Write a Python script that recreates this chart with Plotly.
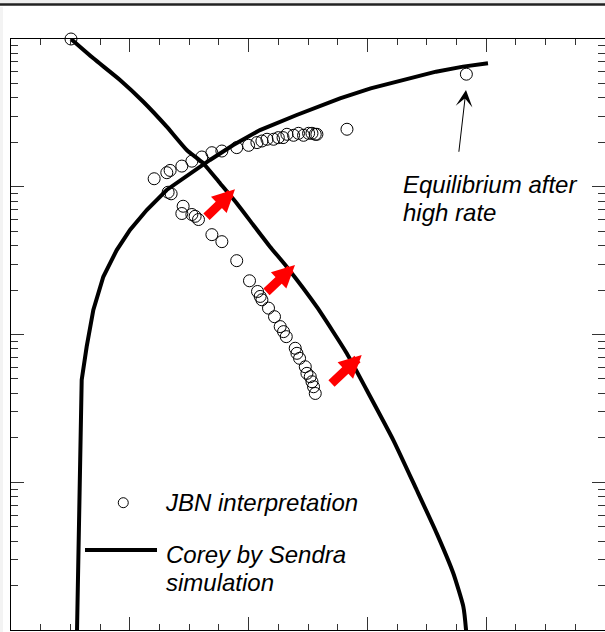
import plotly.graph_objects as go

# Corey curves (Sendra simulation)
corey_o_x = [0.101, 0.1386, 0.1835, 0.2227, 0.2621, 0.2958, 0.3237, 0.3519, 0.380, 0.4079, 0.436,
             0.4641, 0.5146, 0.5652, 0.5988, 0.6436, 0.683, 0.7167, 0.7446, 0.7615, 0.766, 0.7675]
corey_o_y = [1.0, 0.740, 0.528, 0.376, 0.255, 0.1773, 0.1441, 0.1055, 0.0773, 0.0551, 0.0393,
             0.02876, 0.01542, 0.00746, 0.00421, 0.00193, 0.000886, 0.000451, 0.000242, 0.000144,
             0.0001008, 0.00008]

corey_w_x = [0.1107, 0.1145, 0.119, 0.1274, 0.1386, 0.1554, 0.178, 0.2003, 0.2285, 0.2621, 0.3013,
             0.335, 0.3742, 0.4192, 0.481, 0.5539, 0.6055, 0.6633, 0.7155, 0.761, 0.803]
corey_w_y = [0.00008, 0.000555, 0.00492, 0.00827, 0.01465, 0.0246, 0.0373, 0.051, 0.0696, 0.0951,
             0.1233, 0.1518, 0.1917, 0.242, 0.306, 0.397, 0.4637, 0.528, 0.601, 0.65, 0.685]

# JBN interpretation points
jbn_x = [0.101,
         0.241, 0.2623, 0.2679, 0.2876, 0.3045, 0.3213, 0.3382, 0.355, 0.380, 0.400, 0.414, 0.4224,
         0.431, 0.442, 0.450, 0.458, 0.4645, 0.4757, 0.484, 0.4925, 0.501, 0.5067, 0.5122, 0.515,
         0.5656, 0.7666,
         0.2645, 0.2696, 0.2898, 0.2876, 0.3045, 0.310, 0.3156, 0.3382, 0.355, 0.380, 0.4015, 0.415,
         0.4195, 0.4224, 0.4335, 0.4436, 0.4532, 0.4588, 0.4634, 0.4785, 0.4814, 0.4858, 0.4954,
         0.4982, 0.5038, 0.5067, 0.5093, 0.5122]
jbn_y = [1.0,
         0.1133, 0.1245, 0.129, 0.138, 0.149, 0.159, 0.170, 0.1745, 0.184, 0.1907, 0.199, 0.204,
         0.2096, 0.2096, 0.215, 0.215, 0.2265, 0.223, 0.230, 0.223, 0.230, 0.230, 0.2265, 0.2265,
         0.245, 0.578,
         0.0918, 0.0896, 0.0738, 0.0659, 0.0649, 0.0631, 0.060, 0.0474, 0.0425, 0.0316, 0.0231, 0.01955,
         0.0181, 0.01717, 0.01508, 0.0132, 0.01131, 0.01046, 0.00967, 0.00807, 0.00746, 0.0069, 0.00605,
         0.00546, 0.00518, 0.00479, 0.00443, 0.00399]

# red arrows: tip (x, log10 y) and tail offsets in px
red_tip_x = [0.3771, 0.4781, 0.5904]
red_tip_logy = [-1.0173, -1.5296, -2.1387]
red_ax = [-30, -30, -31.7]
red_ay = [29, 28.3, 30]

FONT = "Liberation Sans, Arial, sans-serif"

fig = go.Figure()
fig.add_trace(go.Scatter(x=corey_o_x, y=corey_o_y, mode="lines",
                         line=dict(color="black", width=4, shape="spline", smoothing=0.5),
                         showlegend=False))
fig.add_trace(go.Scatter(x=corey_w_x, y=corey_w_y, mode="lines",
                         line=dict(color="black", width=4), showlegend=False))
fig.add_trace(go.Scatter(x=jbn_x, y=jbn_y, mode="markers", cliponaxis=False,
                         marker=dict(symbol="circle-open", size=12, color="black",
                                     line=dict(width=1, color="black")),
                         showlegend=False))

ann = []
for tx, ty, ax, ay in zip(red_tip_x, red_tip_logy, red_ax, red_ay):
    ann.append(dict(x=tx, y=ty, xref="x", yref="y", ax=ax, ay=ay, text="",
                    showarrow=True, arrowhead=2, arrowwidth=9, arrowsize=0.5,
                    arrowcolor="#ff0000"))
ann.append(dict(x=0.766, y=-0.345, xref="x", yref="y", ax=-7.3, ay=63.3, text="",
                showarrow=True, arrowhead=3, arrowwidth=1, arrowsize=2.8, arrowcolor="black"))

def label(txt, x, y):
    return dict(text="<i>" + txt + "</i>", x=x, y=y, xref="paper", yref="paper",
                xanchor="left", yanchor="middle", showarrow=False,
                font=dict(family=FONT, size=24, color="black"))

ann += [label("Equilibrium after", 0.656, 0.7530),
        label("high rate", 0.656, 0.7064),
        label("JBN interpretation", 0.256, 0.2149),
        label("Corey by Sendra", 0.257, 0.1278),
        label("simulation", 0.257, 0.0804)]

shapes = [
    dict(type="rect", xref="paper", yref="paper", x0=-0.05, x1=1.05, y0=1.0 + 34.5 / 591, y1=1.1,
         fillcolor="#eeeeee", line=dict(width=0), layer="below"),
    dict(type="rect", xref="paper", yref="paper", x0=-11 / 594, x1=-8 / 594, y0=-0.01,
         y1=1.0 + 32 / 591, fillcolor="#f3f3f3", line=dict(width=0), layer="below"),
    dict(type="line", xref="paper", yref="paper", x0=-0.05, x1=1.05,
         y0=1.0 + 34.5 / 591, y1=1.0 + 34.5 / 591, line=dict(color="#222", width=2.5)),
    dict(type="line", xref="paper", yref="paper", x0=0.1246, x1=0.2458, y0=0.1354, y1=0.1354,
         line=dict(color="black", width=4)),
    dict(type="circle", xref="paper", yref="paper", xsizemode="pixel", ysizemode="pixel",
         xanchor=0.189, yanchor=0.2154, x0=-5, x1=5, y0=-5, y1=5,
         line=dict(color="black", width=1)),
]

fig.update_layout(
    width=605, height=632,
    margin=dict(l=11, r=0, t=39, b=2),
    paper_bgcolor="white", plot_bgcolor="white",
    annotations=ann, shapes=shapes,
    xaxis=dict(range=[0, 1], dtick=0.2, tick0=0, ticks="inside", ticklen=13, tickcolor="#333",
               showticklabels=False, showgrid=False, zeroline=False, showline=True,
               linecolor="black", linewidth=1, mirror="allticks",
               minor=dict(dtick=0.05, ticks="inside", ticklen=6, tickcolor="#333", showgrid=False)),
    yaxis=dict(type="log", range=[-4, 0], dtick=1, ticks="inside", ticklen=13, tickcolor="#333",
               showticklabels=False, showgrid=False, zeroline=False, showline=True,
               linecolor="black", linewidth=1, mirror="allticks",
               minor=dict(dtick="D1", ticks="inside", ticklen=7, tickcolor="#333", showgrid=False)),
)

fig.write_html("out.html", config={"displayModeBar": False},
               post_script="document.body.style.margin='0';document.body.style.overflow='hidden';")
